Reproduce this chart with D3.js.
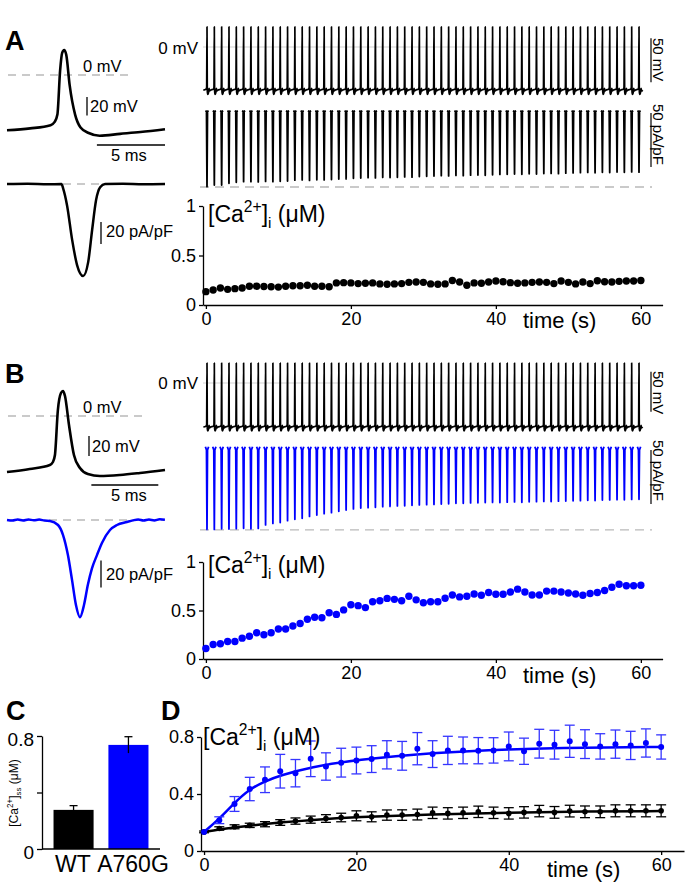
<!DOCTYPE html>
<html>
<head>
<meta charset="utf-8">
<script src="https://cdn.jsdelivr.net/npm/d3@7/dist/d3.min.js"></script>
<style>
  body { margin: 0; background: #fff; }
  svg { font-family: Arial, "Liberation Sans", sans-serif; }
</style>
</head>
<body>
<script>
// ---------- data ----------

// A left: single AP (ms, mV) and AP-clamp current (ms, pA/pF), WT
const apTimeA = [0, 1.7, 3.2, 3.5, 3.7, 3.9, 4.05, 4.2, 4.35, 4.6, 5.0, 5.4, 6.0, 6.8, 8.3, 9.8, 11.6];
const apVoltA = [-60, -58, -54.5, -51, -43, 5, 24, 27, 22, -11, -43, -57, -63, -66, -64, -62, -59];
const curTimeA = [0, 1.5, 3, 4.0, 4.12, 4.41, 4.78, 5.15, 5.59, 5.96, 6.25, 6.54, 6.84, 7.2, 8.5, 10, 11.6];
const curValA = [0, 0.3, -0.3, 0, -4, -20, -52, -76, -86, -73, -43, -15, -3, 0, 0.3, -0.2, 0];

// B left: same for A760G
const apTimeB = [0, 1.7, 3.2, 3.43, 3.58, 3.8, 4.03, 4.18, 4.33, 4.63, 5.0, 5.45, 6.04, 6.94, 8.43, 9.93, 11.8];
const apVoltB = [-56, -53, -49, -46, -39, 6, 23, 25, 20, -9, -39, -52, -58, -60, -59, -57, -54];
const curTimeB = [0, 0.4, 0.8, 1.2, 1.6, 2.0, 2.4, 2.8, 3.21, 3.81, 4.18, 4.55, 4.85, 5.15, 5.45, 5.75, 6.04, 6.34,
  6.72, 7.09, 7.69, 8.21, 8.96, 9.4, 9.8, 10.2, 10.6, 11.0, 11.4, 11.79];
const curValB = [0, -0.4, 0.3, -0.3, 0.4, -0.2, 0.3, -0.4, -0.7, -3.7, -11, -26, -44, -63, -72, -63, -48, -36,
  -26, -17, -7.4, -3.7, -1.5, -0.3, 0.4, -0.4, 0.3, -0.3, 0.5, 0.2];

// trains: one spike per second
const spikeTimes = [0, 1, 2, 3, 4, 5, 6, 7, 8, 9, 10, 11, 12, 13, 14, 15, 16, 17, 18, 19,
  20, 21, 22, 23, 24, 25, 26, 27, 28, 29, 30, 31, 32, 33, 34, 35, 36, 37, 38, 39,
  40, 41, 42, 43, 44, 45, 46, 47, 48, 49, 50, 51, 52, 53, 54, 55, 56, 57, 58, 59];
// AP shape in the train (s from spike, mV)
const vShapeDt = [-0.5, -0.15, -0.05, 0, 0.04, 0.1, 0.2, 0.28, 0.36, 0.5];
const vShapeA = [-49, -48, -46, 23, -50, -54, -52, -47, -50, -49];
const vShapeB = [-55, -54, -52, 25, -57, -60, -58, -53, -56, -55];
// peak current of every spike (pA/pF)
const trainPeakA = [-68.2, -66.7, -66.7, -65.1, -64.2, -63.6, -63.6, -63.8, -63.4, -63.6, -63.2, -63.0,
  -62.2, -62.0, -62.4, -61.8, -62.0, -61.6, -61.2, -61.0, -60.4, -60.2, -59.9, -60.1, -59.6, -59.8,
  -59.5, -59.2, -59.4, -58.9, -58.6, -58.4, -58.0, -58.3, -57.8, -58.0, -57.6, -57.4, -57.7, -57.2,
  -56.9, -56.7, -56.5, -56.8, -56.3, -56.5, -56.1, -55.9, -56.2, -55.7, -55.5, -55.3, -55.0, -55.4,
  -54.9, -55.1, -54.7, -54.9, -54.6, -54.8];
const trainPeakB = [-73.5, -73.5, -73.0, -73.2, -72.8, -72.5, -73.0, -72.6, -69.4, -68.0, -67.2, -65.4,
  -64.2, -63.3, -61.5, -60.2, -59.0, -58.0, -56.8, -55.6, -54.6, -53.8, -53.4, -53.0, -52.5, -52.2,
  -51.8, -51.6, -51.2, -50.9, -50.6, -50.4, -50.1, -49.8, -49.4, -49.3, -49.0, -48.9, -48.7, -48.5,
  -48.6, -48.3, -48.1, -48.4, -48.0, -47.8, -47.6, -47.7, -47.4, -47.2, -47.0, -46.9, -46.6, -46.8,
  -46.3, -46.2, -46.0, -46.1, -45.8, -45.7];
const iShapeDt = [-0.22, -0.07, 0, 0.07, 0.22];
const iShapeTopA = [2, 1.5, 0, 1.5, 2];
const iShapeTopB = [3, 0, 0, 0, 3];

// [Ca2+]i every second (uM)
const caTime = [0, 1, 2, 3, 4, 5, 6, 7, 8, 9, 10, 11, 12, 13, 14, 15, 16, 17, 18, 19, 20,
  21, 22, 23, 24, 25, 26, 27, 28, 29, 30, 31, 32, 33, 34, 35, 36, 37, 38, 39, 40,
  41, 42, 43, 44, 45, 46, 47, 48, 49, 50, 51, 52, 53, 54, 55, 56, 57, 58, 59, 60];
const caWT = [0.135, 0.152, 0.171, 0.158, 0.165, 0.171, 0.19, 0.19, 0.187, 0.184,
  0.181, 0.19, 0.194, 0.194, 0.2, 0.19, 0.19, 0.184, 0.223, 0.226,
  0.223, 0.216, 0.219, 0.223, 0.213, 0.21, 0.213, 0.216, 0.229, 0.232,
  0.229, 0.213, 0.21, 0.213, 0.248, 0.232, 0.2, 0.223, 0.219, 0.232,
  0.242, 0.235, 0.226, 0.219, 0.223, 0.229, 0.232, 0.229, 0.216, 0.242,
  0.229, 0.213, 0.232, 0.216, 0.245, 0.235, 0.232, 0.239, 0.242, 0.242, 0.248];
const caMut = [0.108, 0.15, 0.157, 0.18, 0.18, 0.215, 0.235, 0.27, 0.25, 0.27,
  0.31, 0.31, 0.34, 0.366, 0.41, 0.43, 0.425, 0.477, 0.46, 0.506,
  0.56, 0.55, 0.53, 0.59, 0.6, 0.625, 0.615, 0.6, 0.647, 0.61,
  0.58, 0.59, 0.59, 0.627, 0.66, 0.64, 0.647, 0.67, 0.657, 0.686,
  0.667, 0.667, 0.69, 0.72, 0.69, 0.66, 0.66, 0.70, 0.70, 0.69,
  0.68, 0.67, 0.657, 0.676, 0.686, 0.706, 0.74, 0.77, 0.755, 0.755, 0.76];

// C: steady-state [Ca2+]
const groups = ["WT", "A760G"];
const ssMean = [0.277, 0.737];
const ssErr = [0.03, 0.058];
const cTicks = [0, 0.4, 0.8];
const cTickLabels = ["0", "", "0.8"];

// D: mean +/- SEM every 2 s, plus fitted curves
const avgTime = [0, 2, 4, 6, 8, 10, 12, 14, 16, 18, 20, 22, 24, 26, 28, 30,
  32, 34, 36, 38, 40, 42, 44, 46, 48, 50, 52, 54, 56, 58, 60];
const avgMut = [0.134, 0.216, 0.33, 0.435, 0.5, 0.56, 0.546, 0.647, 0.593, 0.62, 0.635, 0.645,
  0.675, 0.668, 0.718, 0.68, 0.706, 0.706, 0.704, 0.706, 0.734, 0.7, 0.753, 0.746, 0.77, 0.75,
  0.734, 0.75, 0.741, 0.758, 0.73];
const avgMutErr = [0, 0.024, 0.052, 0.082, 0.09, 0.118, 0.096, 0.125, 0.096, 0.101, 0.094, 0.094,
  0.099, 0.101, 0.113, 0.094, 0.099, 0.094, 0.092, 0.089, 0.101, 0.092, 0.101, 0.101, 0.113, 0.101,
  0.089, 0.099, 0.099, 0.099, 0.085];
const avgWT = [0.134, 0.158, 0.17, 0.18, 0.188, 0.2, 0.21, 0.22, 0.228, 0.235, 0.247, 0.24, 0.252,
  0.252, 0.256, 0.268, 0.264, 0.268, 0.275, 0.268, 0.264, 0.271, 0.28, 0.271, 0.28, 0.275, 0.275,
  0.282, 0.282, 0.282, 0.282];
const avgWTErr = [0.006, 0.012, 0.014, 0.015, 0.018, 0.02, 0.022, 0.025, 0.027, 0.03, 0.035, 0.035,
  0.036, 0.037, 0.038, 0.04, 0.04, 0.04, 0.04, 0.04, 0.04, 0.04, 0.04, 0.041, 0.041, 0.041, 0.041,
  0.042, 0.042, 0.042, 0.042];
const fitTime = [0, 2, 4, 6, 8, 10, 14, 20, 30, 40, 50, 60];
const fitMut = [0.134, 0.225, 0.34, 0.435, 0.49, 0.53, 0.59, 0.64, 0.69, 0.715, 0.725, 0.73];
const fitWT = [0.134, 0.152, 0.166, 0.178, 0.19, 0.2, 0.218, 0.238, 0.258, 0.27, 0.277, 0.28];


const BLUE = "#0000ff";
const GREY = "#b9b9b9";

const svg = d3.select("body").append("svg")
    .attr("width", 697)
    .attr("height", 889);

// ---------- helpers ----------
function addTrace(xs, ys, x, y, color, width, curve) {
  const line = d3.line()
    .x(d => x(d[0]))
    .y(d => y(d[1]))
    .curve(curve || d3.curveMonotoneX);
  svg.append("path")
    .datum(d3.zip(xs, ys))
    .attr("d", line)
    .attr("fill", "none")
    .attr("stroke", color)
    .attr("stroke-width", width)
    .attr("stroke-linejoin", "round");
}

function rule(x1, y1, x2, y2, color, dash, width) {
  svg.append("line")
    .attr("x1", x1).attr("y1", y1)
    .attr("x2", x2).attr("y2", y2)
    .attr("stroke", color)
    .attr("stroke-width", width || 1.3)
    .attr("stroke-dasharray", dash || null);
}

function label(x, y, txt, size, anchor, weight) {
  return svg.append("text")
    .attr("x", x).attr("y", y)
    .attr("font-size", size)
    .attr("text-anchor", anchor || "start")
    .attr("font-weight", weight || "normal")
    .text(txt);
}

function rotLabel(x, y, txt, size) {
  svg.append("text")
    .attr("transform", `translate(${x},${y}) rotate(90)`)
    .attr("font-size", size)
    .text(txt);
}

function caLabel(x, y, size, sub, transform) {
  const t = svg.append("text")
    .attr("x", x).attr("y", y)
    .attr("font-size", size);
  if (transform) t.attr("transform", transform).attr("text-anchor", "middle");
  t.append("tspan").text("[Ca");
  t.append("tspan").attr("font-size", size * 0.68).attr("dy", -size * 0.42).text("2+");
  t.append("tspan").attr("dy", size * 0.42).text("]");
  t.append("tspan").attr("font-size", size * 0.66).attr("dy", size * 0.25).text(sub);
  t.append("tspan").attr("dy", -size * 0.25).text(" (\u03bcM)");
}

function styleAxis(g, size) {
  g.attr("font-size", size).attr("font-family", null);
  g.selectAll("path, line").attr("stroke", "#000").attr("stroke-width", 1.3);
  g.selectAll("text").attr("fill", "#000");
}

// ---------- left traces (single AP + current) ----------
function drawSingle(p) {
  // 0 mV and 0 pA/pF references
  rule(8, p.v(0), p.dashEnd, p.v(0), GREY, "8,6");
  rule(7, p.i(0), 165, p.i(0), GREY, "8,6");
  addTrace(p.apT, p.apV, p.t, p.v, "#000", 2.6);
  addTrace(p.curT, p.curV, p.t, p.i, p.color, 2.5);

  // scale bars
  rule(p.mvBarX, p.v(p.mvBar[0]), p.mvBarX, p.v(p.mvBar[1]), "#000");
  rule(p.t(p.msBar[0]), p.msBarY, p.t(p.msBar[1]), p.msBarY, "#000");
  rule(101, p.i(p.paBar[0]), 101, p.i(p.paBar[1]), "#000");

  label(83, p.zeroY, "0 mV", 16.5);
  label(p.mvBarX + 3, p.mvTextY, "20 mV", 16.5);
  label(111, p.msTextY, "5 ms", 16.5);
  label(106, p.paTextY, "20 pA/pF", 16.5);
}

// ---------- right traces (trains at 1 Hz) ----------
const tTrain = d3.scaleLinear().domain([0, 59]).range([207, 639]);

function drawTrain(p) {
  rule(203, p.v(0), 640, p.v(0), "#d4d4d4", null, 1.2);
  rule(200, p.i(p.dashAt), 652, p.i(p.dashAt), GREY, "9,6");

  // continuous voltage trace
  const vx = [], vy = [];
  spikeTimes.forEach(ts => {
    vShapeDt.forEach((dt, k) => { vx.push(ts + dt); vy.push(p.vShape[k]); });
  });
  addTrace(vx, vy, tTrain, p.v, "#000", 1.7, d3.curveMonotoneX);

  // current: one short sweep per spike
  spikeTimes.forEach((ts, n) => {
    const xs = iShapeDt.map(dt => ts + dt);
    const ys = p.iTop.map((v, k) => (k === 2 ? p.peaks[n] : v));
    addTrace(xs, ys, tTrain, p.i, p.color, 1.8, d3.curveLinear);
  });

  label(198, p.zeroY, "0 mV", 17, "end");
  rule(651, p.v(p.mvBar[0]), 651, p.v(p.mvBar[1]), "#000", null, 1.2);
  rule(651, p.i(p.paBar[0]), 651, p.i(p.paBar[1]), "#000", null, 1.2);
  rotLabel(653, p.mvText, "50 mV", 15);
  rotLabel(653, p.paText, "50 pA/pF", 15);
}

// ---------- [Ca2+]i scatter panels ----------
const xCa = d3.scaleLinear().domain([-0.4, 63]).range([203, 662.6]);

function drawCa(values, y, color, labelY, timeY) {
  const gx = svg.append("g")
      .attr("transform", `translate(0,${y(0)})`)
      .call(d3.axisBottom(xCa).tickValues([0, 20, 40, 60]).tickSize(4).tickSizeOuter(0).tickPadding(3));
  styleAxis(gx, 18);
  const gy = svg.append("g")
      .attr("transform", `translate(${xCa(-0.4)},0)`)
      .call(d3.axisLeft(y).tickValues([0, 0.5, 1]).tickFormat(d => String(d)).tickSize(4).tickSizeOuter(0).tickPadding(3));
  styleAxis(gy, 18);

  svg.append("g").selectAll("circle")
    .data(d3.zip(caTime, values))
    .enter().append("circle")
      .attr("cx", d => xCa(d[0]))
      .attr("cy", d => y(d[1]))
      .attr("r", 3.7)
      .attr("fill", color);

  caLabel(208, labelY, 23, "i");
  label(523, timeY, "time (s)", 22);
}

// ---------- panel A ----------
label(5, 50, "A", 27, "start", "bold");
drawSingle({
  t: d3.scaleLinear().domain([0, 11.6]).range([7, 165]),
  v: d3.scaleLinear().domain([0, 20]).range([75, 56.6]),
  i: d3.scaleLinear().domain([0, -20]).range([184, 205.4]),
  apT: apTimeA, apV: apVoltA, curT: curTimeA, curV: curValA, color: "#000",
  dashEnd: 132, mvBarX: 87, mvBar: [-24, -44], msBar: [6.6, 11.6], msBarY: 145,
  paBar: [-35.5, -56], zeroY: 72, mvTextY: 112, msTextY: 161, paTextY: 237
});
drawTrain({
  v: d3.scaleLinear().domain([0, 50]).range([47, 3]),
  i: d3.scaleLinear().domain([0, -50]).range([113, 167]),
  vShape: vShapeA, iTop: iShapeTopA, peaks: trainPeakA, color: "#000", dashAt: -68.5,
  mvBar: [10, -40], paBar: [0, -50], mvText: 38, paText: 104, zeroY: 54
});
drawCa(caWT, d3.scaleLinear().domain([0, 1]).range([305, 206]), "#000", 222, 328);

// ---------- panel B ----------
label(5, 383, "B", 27, "start", "bold");
drawSingle({
  t: d3.scaleLinear().domain([0, 11.8]).range([7, 165]),
  v: d3.scaleLinear().domain([0, 20]).range([416, 396]),
  i: d3.scaleLinear().domain([0, -20]).range([520, 547]),
  apT: apTimeB, apV: apVoltB, curT: curTimeB, curV: curValB, color: BLUE,
  dashEnd: 143, mvBarX: 89, mvBar: [-20, -40], msBar: [6.3, 11.3], msBarY: 485,
  paBar: [-30, -50], zeroY: 413, mvTextY: 452, msTextY: 501, paTextY: 580
});
drawTrain({
  v: d3.scaleLinear().domain([0, 50]).range([383, 343]),
  i: d3.scaleLinear().domain([0, -50]).range([450, 504]),
  vShape: vShapeB, iTop: iShapeTopB, peaks: trainPeakB, color: BLUE, dashAt: -74,
  mvBar: [14, -36], paBar: [0, -50], mvText: 371, paText: 440, zeroY: 389
});
drawCa(caMut, d3.scaleLinear().domain([0, 1]).range([659, 562]), BLUE, 573, 683);

// ---------- panel C ----------
label(6, 720, "C", 27, "start", "bold");
const xC = d3.scaleBand().domain(groups).range([42, 160]).paddingInner(0.27).paddingOuter(0.21);
const yC = d3.scaleLinear().domain([0, 0.8]).range([849, 736]);

svg.append("g").selectAll("rect")
  .data(groups)
  .enter().append("rect")
    .attr("x", d => xC(d))
    .attr("y", (d, i) => yC(ssMean[i]))
    .attr("width", xC.bandwidth())
    .attr("height", (d, i) => yC(0) - yC(ssMean[i]))
    .attr("fill", (d, i) => (i === 0 ? "#000" : BLUE));

groups.forEach((g, i) => {
  const cx = xC(g) + xC.bandwidth() / 2;
  rule(cx, yC(ssMean[i] - ssErr[i]), cx, yC(ssMean[i] + ssErr[i]), "#000", null, 1.3);
  rule(cx - 4, yC(ssMean[i] + ssErr[i]), cx + 4, yC(ssMean[i] + ssErr[i]), "#000", null, 1.3);
});
label(73, 872, groups[0], 23, "middle");
label(133, 872, groups[1], 23, "middle");

const gyC = svg.append("g")
    .attr("transform", "translate(42,0)")
    .call(d3.axisLeft(yC).tickValues(cTicks).tickFormat((d, i) => cTickLabels[i]).tickSize(5).tickSizeOuter(0).tickPadding(3));
styleAxis(gyC, 19);
gyC.selectAll("text").attr("dy", "0.5em");
rule(42, yC(0), 160, yC(0), "#000");
caLabel(0, 0, 12, "ss", "translate(18,793) rotate(-90)");

// ---------- panel D ----------
label(161, 720, "D", 27, "start", "bold");
const xD = d3.scaleLinear().domain([-0.4, 63]).range([201, 684]);
const yD = d3.scaleLinear().domain([0, 0.8]).range([851, 737]);

const gxD = svg.append("g")
    .attr("transform", `translate(0,${yD(0)})`)
    .call(d3.axisBottom(xD).tickValues([0, 20, 40, 60]).tickSize(4).tickSizeOuter(0).tickPadding(3));
styleAxis(gxD, 18);
const gyD = svg.append("g")
    .attr("transform", `translate(${xD(-0.4)},0)`)
    .call(d3.axisLeft(yD).tickValues([0, 0.4, 0.8]).tickFormat(d => String(d)).tickSize(4).tickSizeOuter(0).tickPadding(3));
styleAxis(gyD, 18);

function drawMean(ts, ms, es, fitY, color, barColor, r) {
  addTrace(fitTime, fitY, xD, yD, color, 2.5, d3.curveBasis);
  ts.forEach((t, i) => {
    if (es[i] <= 0) return;
    const cx = xD(t);
    rule(cx, yD(ms[i] - es[i]), cx, yD(ms[i] + es[i]), barColor, null, 1.3);
    rule(cx - 5, yD(ms[i] + es[i]), cx + 5, yD(ms[i] + es[i]), barColor, null, 1.3);
    rule(cx - 5, yD(ms[i] - es[i]), cx + 5, yD(ms[i] - es[i]), barColor, null, 1.3);
  });
  svg.append("g").selectAll("circle")
    .data(d3.zip(ts, ms))
    .enter().append("circle")
      .attr("cx", d => xD(d[0]))
      .attr("cy", d => yD(d[1]))
      .attr("r", r)
      .attr("fill", color);
}

drawMean(avgTime, avgWT, avgWTErr, fitWT, "#000", "#000", 2.8);
drawMean(avgTime, avgMut, avgMutErr, fitMut, BLUE, "#3535ff", 3);

caLabel(203, 745, 23, "i");
label(547, 877, "time (s)", 22);
</script>
</body>
</html>
